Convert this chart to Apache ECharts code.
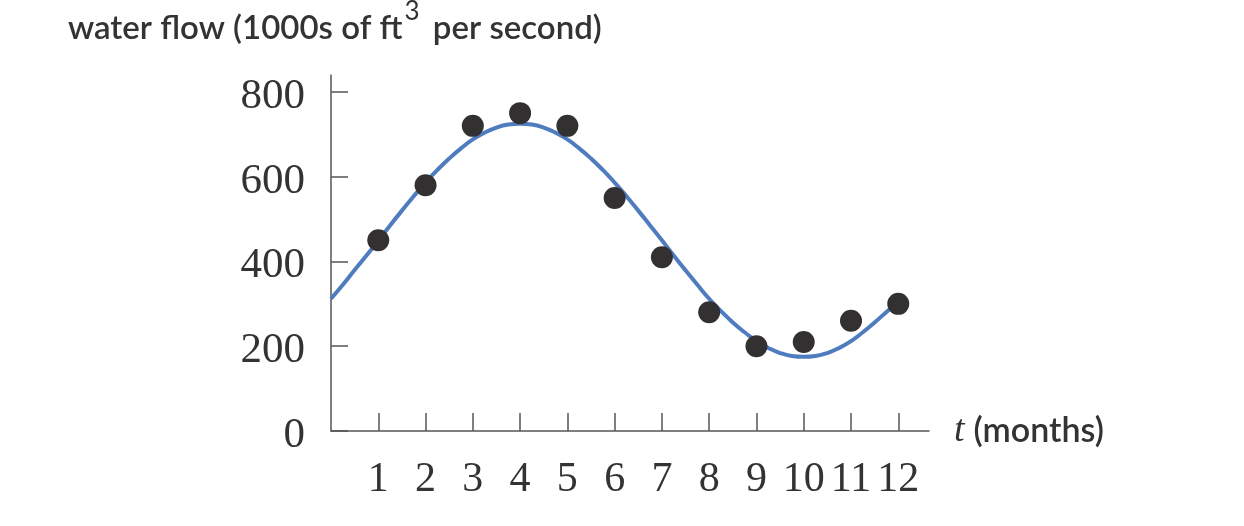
<!DOCTYPE html>
<html>
<head>
<meta charset="utf-8">
<script src="https://cdn.jsdelivr.net/npm/echarts@6/dist/echarts.min.js"></script>
<style>html,body{margin:0;padding:0;background:#fff;}#c{width:1244px;height:526px;}</style>
</head>
<body>
<div id="c"></div>
<script>
// Observed monthly water flow (dots)
const months = [1, 2, 3, 4, 5, 6, 7, 8, 9, 10, 11, 12];
const flow = [450, 580, 720, 750, 720, 550, 410, 280, 200, 210, 260, 300];
// Fitted curve at quarter-month steps
const curveT = [0, 0.25, 0.5, 0.75, 1, 1.25, 1.5, 1.75, 2, 2.25, 2.5, 2.75, 3, 3.25, 3.5, 3.75, 4, 4.25, 4.5, 4.75, 5, 5.25, 5.5, 5.75, 6, 6.25, 6.5, 6.75, 7, 7.25, 7.5, 7.75, 8, 8.25, 8.5, 8.75, 9, 9.25, 9.5, 9.75, 10, 10.25, 10.5, 10.75, 11, 11.25, 11.5, 11.75, 12];
const curveV = [312, 345, 380, 414, 449, 485, 520, 554, 586, 616, 643, 667, 688, 704, 716, 723, 725, 723, 716, 704, 688, 667, 643, 616, 586, 554, 520, 485, 450, 414, 379, 345, 312, 283, 256, 233, 212, 196, 184, 177, 175, 177, 184, 196, 212, 233, 256, 281, 305];
const yTicks = [0, 200, 400, 600, 800];
const xTicks = [1, 2, 3, 4, 5, 6, 7, 8, 9, 10, 11, 12];

const chart = echarts.init(document.getElementById('c'), null, {renderer: 'canvas'});
const axisColor = '#555';
chart.setOption({
  animation: false,
  title: {
    text: '{a|water flow (1000s of ft}{s|3}{a| per second)}',
    left: 63, top: -6,
    textStyle: {
      rich: {
        a: {fontFamily: 'Lato', fontSize: 33, fontWeight: 600, color: '#333', lineHeight: 46, verticalAlign: 'bottom'},
        s: {fontFamily: 'Lato', fontSize: 26, fontWeight: 'normal', color: '#333', lineHeight: 26, verticalAlign: 'top', padding: [0, 5, 0, 2]}
      }
    }
  },
  grid: {left: 331, right: 315, top: 75, bottom: 95, containLabel: false},
  xAxis: {
    type: 'value', min: 0, max: 12.65,
    axisLine: {show: true, lineStyle: {color: axisColor, width: 1.5}},
    axisTick: {show: true, inside: true, length: 18, lineStyle: {color: axisColor, width: 1.5}, customValues: xTicks},
    axisLabel: {show: true, margin: 28, fontFamily: 'Liberation Serif', fontSize: 42, color: '#333', customValues: xTicks},
    splitLine: {show: false},
    name: '{t|t}{m|(months)}',
    nameLocation: 'end', nameGap: 25,
    nameTextStyle: {
      rich: {
        t: {fontFamily: 'Liberation Serif', fontStyle: 'italic', fontSize: 38, color: '#333', padding: [0, 9, 0, 0]},
        m: {fontFamily: 'Lato', fontSize: 34, fontWeight: 600, color: '#333'}
      }
    }
  },
  yAxis: {
    type: 'value', min: 0, max: 840,
    axisLine: {show: true, lineStyle: {color: axisColor, width: 1.5}},
    axisTick: {show: true, inside: true, length: 17, lineStyle: {color: axisColor, width: 1.5}, customValues: yTicks},
    axisLabel: {
      show: true, margin: 26, customValues: yTicks,
      formatter: '{v|{value}}',
      rich: {v: {fontFamily: 'Liberation Serif', fontSize: 43, color: '#333', padding: [9, 0, 0, 0]}}
    },
    splitLine: {show: false}
  },
  series: [
    {
      type: 'line', smooth: true, showSymbol: false, symbol: 'none',
      data: curveT.map((t, i) => [t, curveV[i]]),
      lineStyle: {color: '#4f7cbf', width: 4},
      z: 2
    },
    {
      type: 'scatter', symbol: 'circle', symbolSize: 22,
      data: months.map((m, i) => [m, flow[i]]),
      itemStyle: {color: '#323031', opacity: 1},
      z: 3
    }
  ]
});
</script>
</body>
</html>
